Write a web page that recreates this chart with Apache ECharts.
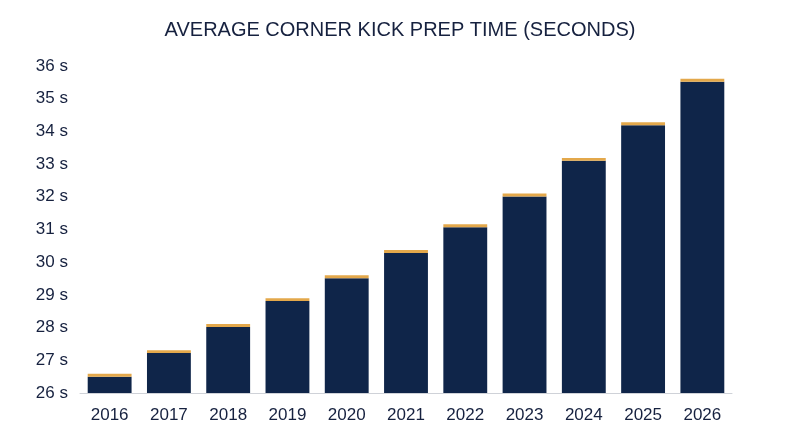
<!DOCTYPE html>
<html><head><meta charset="utf-8">
<script src="https://cdn.jsdelivr.net/npm/echarts@6/dist/echarts.min.js"></script>
<style>html,body{margin:0;padding:0;background:#fff}#c{width:800px;height:447px}</style>
</head><body><div id="c"></div>
<script>
const years = ['2016','2017','2018','2019','2020','2021','2022','2023','2024','2025','2026'];
const prepTime = [26.5, 27.22, 28.02, 28.81, 29.51, 30.28, 31.07, 32.01, 33.1, 34.19, 35.52];
const capSize = [0.09,0.09,0.09,0.09,0.09,0.09,0.09,0.09,0.09,0.09,0.09];
const yTicks = {min: 26, max: 36, interval: 1};
const chart = echarts.init(document.getElementById('c'));
const font = 'Liberation Sans, Arial, sans-serif';
chart.setOption({
  animation: false,
  title: {text: 'AVERAGE CORNER KICK PREP TIME (SECONDS)', left: 'center', top: 15,
    textStyle: {fontFamily: font, fontSize: 20, fontWeight: 'normal', color: '#16213f'}},
  grid: {left: 80, right: 68, top: 66, bottom: 54},
  xAxis: {type: 'category', data: years,
    axisLine: {lineStyle: {color: '#cfd2d8', width: 1}}, axisTick: {show: false},
    axisLabel: {fontFamily: font, fontSize: 17, color: '#16213f', margin: 14}},
  yAxis: {type: 'value', min: yTicks.min, max: yTicks.max, interval: yTicks.interval,
    splitLine: {show: false}, axisLine: {show: false}, axisTick: {show: false},
    axisLabel: {fontFamily: font, fontSize: 17, color: '#16213f', margin: 12, formatter: v => v + ' s'}},
  series: [
    {type: 'bar', stack: 't', data: prepTime, barCategoryGap: '26%', itemStyle: {color: '#0f2549'}},
    {type: 'bar', stack: 't', data: capSize, itemStyle: {color: '#e3a84b'}}
  ]
});
</script></body></html>
